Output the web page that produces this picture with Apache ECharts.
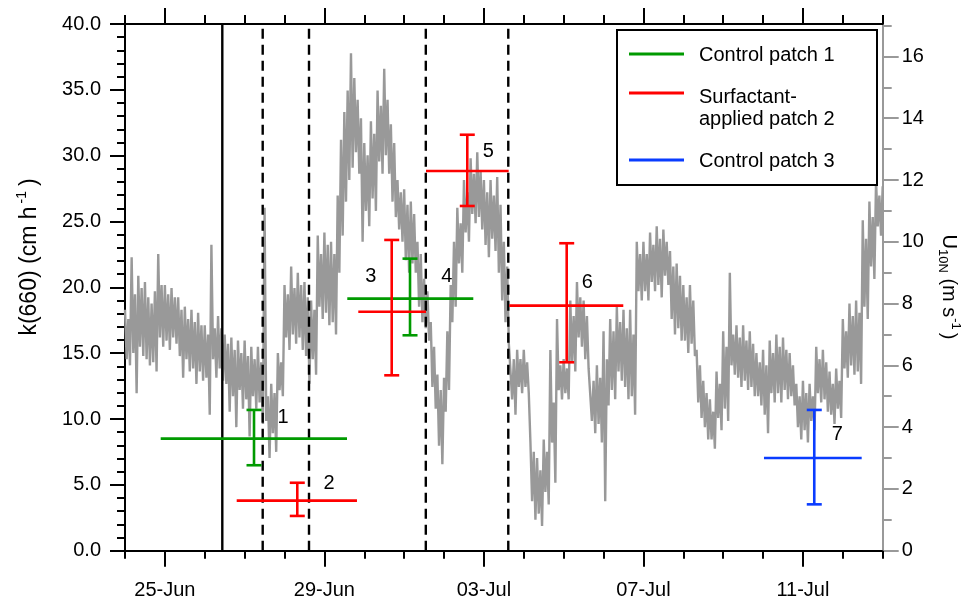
<!DOCTYPE html>
<html>
<head>
<meta charset="utf-8">
<script src="https://cdn.jsdelivr.net/npm/echarts@6/dist/echarts.min.js"></script>
<style>
html,body{margin:0;padding:0;background:#fff;}
#chart{width:972px;height:601px;}
</style>
</head>
<body>
<div id="chart"></div>
<script>
// ---------------- DATA (x = days since 24-Jun 00:00) ----------------
const dayTicks = [0,1,2,3,4,5,6,7,8,9,10,11,12,13,14,15,16,17,18,19];
const dayLabelDays = [1,5,9,13,17];
const dayLabels = ['25-Jun','29-Jun','03-Jul','07-Jul','11-Jul'];
const kTicksMajor = [0,5,10,15,20,25,30,35,40];
const uTicksMajor = [0,2,4,6,8,10,12,14,16];
const uTicksMinor = [1,3,5,7,9,11,13,15,17];

// U10N wind speed (m s-1), one reading every hour from 24-Jun 00:00
const windStepHours = 1;
const windU10N = [
  // 24-Jun
  7.8,6.2,7.5,6.0, 9.5,6.4,8.3,5.1, 8.9,6.6,8.5,6.3, 8.7,6.2,8.2,6.0, 8.0,6.1,8.4,5.8, 9.6,6.9,8.6,6.6,
  // 25-Jun
  8.6,6.8,8.3,6.5, 8.5,6.9,8.2,6.7, 8.2,6.3,7.8,5.6, 7.9,6.2,7.5,5.8, 7.8,5.9,7.4,5.4, 7.7,5.8,7.3,5.5,
  // 26-Jun
  7.3,5.6,7.0,4.4, 9.9,6.2,7.2,5.6, 7.6,5.9,7.2,5.5, 7.0,5.4,6.7,4.5, 6.9,5.0,6.5,4.0, 6.8,5.2,6.4,4.6,
  // 27-Jun
  6.8,4.9,6.3,3.7, 6.6,5.0,6.2,4.6, 6.6,4.8,6.1,4.1, 11.1,4.2,5.0,3.0, 5.4,3.8,5.1,3.2, 6.4,5.2,6.1,5.0,
  // 28-Jun
  8.6,6.9,8.3,6.5, 9.2,7.0,8.5,6.7, 9.0,6.9,8.6,6.5, 8.7,6.3,8.2,5.4, 8.1,6.2,7.8,5.7, 10.2,7.9,9.6,7.5,
  // 29-Jun
  10.3,7.7,9.9,7.3, 10.0,7.4,9.6,7.0, 11.5,9.0,13.3,10.2, 14.2,11.3,14.9,12.0, 16.1,12.4,15.3,12.9, 14.6,12.2,14.0,10.0,
  // 30-Jun
  13.2,11.0,12.8,10.5, 13.9,11.4,13.5,11.0, 14.9,12.6,14.4,12.2, 15.6,12.8,14.6,12.2, 13.8,11.3,13.2,10.8, 12.0,10.4,11.6,10.0,
  // 01-Jul
  11.7,9.4,11.2,9.0, 11.3,9.3,10.9,9.0, 10.0,7.9,9.6,7.4, 8.8,7.2,8.4,6.8, 7.4,5.3,6.6,4.6, 5.7,3.4,5.2,2.8,
  // 02-Jul
  5.6,4.5,7.1,5.2, 8.6,7.4,10.0,7.9, 11.1,9.3,10.6,9.0, 12.0,10.3,11.6,10.0, 12.7,10.9,12.2,10.6, 12.9,10.8,12.3,10.4,
  // 03-Jul
  12.0,9.9,11.6,9.5, 12.0,10.1,11.5,9.7, 12.1,9.0,11.2,8.1, 10.0,7.4,9.2,6.7, 6.7,4.9,6.2,4.4, 6.5,5.3,6.2,5.1,
  // 04-Jul
  6.5,5.3,6.1,5.1, 3.5,1.6,3.2,1.0, 3.0,1.2,2.6,0.8, 3.6,1.9,3.2,1.5, 6.5,3.5,4.8,2.2, 7.5,5.2,6.0,4.9,
  // 05-Jul
  6.2,5.1,5.9,4.9, 8.1,6.1,7.6,5.8, 8.7,6.9,8.2,6.6, 8.1,6.2,7.6,5.9, 5.9,4.2,5.5,3.8, 6.0,4.1,5.6,3.5,
  // 06-Jul
  7.1,1.6,6.2,4.7, 7.5,5.2,7.1,4.9, 7.9,5.8,7.4,5.5, 7.8,5.3,7.2,4.9, 7.8,5.0,7.0,4.4, 10.0,8.4,9.6,8.1,
  // 07-Jul
  10.0,8.4,9.6,8.1, 10.3,8.7,9.9,8.4, 10.5,8.6,10.1,8.2, 10.4,8.9,10.0,8.6, 9.7,7.5,9.2,7.0, 9.3,7.2,8.9,6.8,
  // 08-Jul
  8.6,6.8,8.2,6.4, 8.6,6.7,8.1,6.3, 6.5,4.8,6.0,4.3, 5.5,4.0,5.1,3.6, 4.9,3.6,4.5,3.3, 5.8,4.3,5.4,3.9,
  // 09-Jul
  7.1,4.6,6.6,4.2, 9.0,6.0,7.0,5.7, 7.3,5.6,6.9,5.3, 7.3,5.5,6.8,5.2, 7.1,5.3,6.7,5.0, 6.4,5.0,6.1,4.7,
  // 10-Jul
  6.5,4.4,6.0,3.8, 6.8,5.1,6.4,4.8, 7.0,5.1,6.6,4.8, 6.9,5.2,6.5,4.9, 6.4,5.0,6.0,4.7, 5.4,4.0,5.0,3.6,
  // 11-Jul
  5.5,3.9,5.1,3.5, 5.4,4.2,5.0,3.9, 6.6,5.1,6.2,4.8, 6.5,4.9,6.1,4.5, 5.8,4.4,5.4,4.1, 5.9,4.6,5.5,4.3,
  // 12-Jul
  7.5,5.9,7.1,5.6, 8.0,6.0,7.6,5.7, 8.1,5.8,7.7,5.4, 10.7,7.9,10.1,7.5, 11.3,9.2,10.8,8.8, 12.0,10.5,11.5,10.2,
  11.8
];

// Event lines (days since 24-Jun 00:00)
const solidLineDays = [2.440];
const dashedLineDays = [3.453, 4.614, 7.543, 9.611];

// Error bars: [xMid, k660, xStart, xEnd, kLow, kHigh]  (k in cm h-1)
const patch1Bars = [
  [3.235, 8.51, 0.895, 5.567, 6.49, 10.69],
  [7.147, 19.14, 5.574, 8.734, 16.36, 22.18]
];
const patch2Bars = [
  [4.320, 3.80, 2.801, 5.817, 2.64, 5.16],
  [6.688, 18.15, 5.850, 7.548, 13.32, 23.60],
  [8.583, 28.84, 7.548, 9.621, 26.18, 31.59],
  [11.076, 18.61, 9.636, 12.495, 14.31, 23.35]
];
const patch3Bars = [
  [17.284, 7.04, 16.023, 18.473, 3.52, 10.69]
];
// Bar numbers and their anchor (day, k)
const patch1Labels = ['1','4'];
const patch1LabelAt = [[3.962, 10.08], [8.067, 20.79]];
const patch2Labels = ['2','3','5','6'];
const patch2LabelAt = [[5.115, 5.14], [6.161, 20.79], [9.110, 30.30], [11.592, 20.35]];
const patch3Labels = ['7'];
const patch3LabelAt = [[17.861, 8.79]];

const legendNames = ['Control patch 1', 'Surfactant-', 'applied patch 2', 'Control patch 3'];

// ---------------- STYLE ----------------
const FONT = '"Liberation Sans", Arial, Helvetica, sans-serif';
const FS = 20;
const GREEN = '#009a00', RED = '#ff0000', BLUE = '#0a3cff', GRAY = '#999999';

const windData = windU10N.map((u, i) => [i * windStepHours / 24, u]);

function errorBarSeries(name, bars, labels, labelAt, color) {
  return {
    type: 'custom', name: name, xAxisIndex: 0, yAxisIndex: 0, z: 6, silent: true,
    data: bars.map((b, i) => b.concat(labelAt[i])),
    renderItem: function (params, api) {
      const xm = api.value(0), k = api.value(1), x0 = api.value(2), x1 = api.value(3);
      const lo = api.value(4), hi = api.value(5), lx = api.value(6), ly = api.value(7);
      const pM = api.coord([xm, k]), pL = api.coord([x0, k]), pR = api.coord([x1, k]);
      const pLo = api.coord([xm, lo]), pHi = api.coord([xm, hi]);
      const pT = api.coord([lx, ly]);
      const cap = 7.5;
      const st = { stroke: color, lineWidth: 2.6 };
      return {
        type: 'group',
        children: [
          { type: 'line', shape: { x1: pL[0], y1: pM[1], x2: pR[0], y2: pM[1] }, style: st },
          { type: 'line', shape: { x1: pM[0], y1: pLo[1], x2: pM[0], y2: pHi[1] }, style: st },
          { type: 'line', shape: { x1: pM[0] - cap, y1: pLo[1], x2: pM[0] + cap, y2: pLo[1] }, style: st },
          { type: 'line', shape: { x1: pM[0] - cap, y1: pHi[1], x2: pM[0] + cap, y2: pHi[1] }, style: st },
          { type: 'text', x: pT[0], y: pT[1], style: {
              text: labels[params.dataIndex], fill: '#000', fontSize: FS, fontFamily: FONT,
              align: 'center', verticalAlign: 'middle' } }
        ]
      };
    }
  };
}

function eventLineSeries(days, dashed) {
  return {
    type: 'custom', xAxisIndex: 0, yAxisIndex: 0, z: 4, silent: true,
    data: days.map(d => [d]),
    renderItem: function (params, api) {
      const x = api.value(0);
      const p0 = api.coord([x, 0]), p1 = api.coord([x, 40]);
      return { type: 'line', shape: { x1: p0[0], y1: p0[1], x2: p1[0], y2: p1[1] },
        style: { stroke: '#000', lineWidth: 2.4, lineDash: dashed ? [10, 6] : null } };
    }
  };
}

const xBase = { type: 'value', min: 0, max: 19, gridIndex: 0, splitLine: { show: false } };
const blackLine = { color: '#000', width: 2 };

const option = {
  animation: false,
  backgroundColor: '#fff',
  grid: { left: 125, top: 24, width: 757.7, height: 526.7, containLabel: false },
  xAxis: [
    Object.assign({}, xBase, {
      position: 'bottom',
      axisLine: { show: true, onZero: false, lineStyle: blackLine },
      axisTick: { show: true, customValues: dayTicks, length: 8, lineStyle: blackLine },
      axisLabel: { show: true, customValues: dayLabelDays, margin: 30,
        formatter: v => dayLabels[dayLabelDays.indexOf(v)] || '',
        fontSize: FS, fontFamily: FONT, color: '#000' }
    }),
    Object.assign({}, xBase, {
      position: 'bottom',
      axisLine: { show: false, onZero: false },
      axisTick: { show: true, customValues: dayLabelDays, length: 16, lineStyle: blackLine },
      axisLabel: { show: false }
    }),
    Object.assign({}, xBase, {
      position: 'top',
      axisLine: { show: true, onZero: false, lineStyle: blackLine },
      axisTick: { show: true, customValues: dayTicks, length: 9, lineStyle: blackLine },
      axisLabel: { show: false }
    }),
    Object.assign({}, xBase, {
      position: 'top',
      axisLine: { show: false, onZero: false },
      axisTick: { show: true, customValues: dayLabelDays, length: 16, lineStyle: blackLine },
      axisLabel: { show: false }
    })
  ],
  yAxis: [
    {
      type: 'value', position: 'left', min: 0, max: 40, interval: 5,
      splitLine: { show: false },
      axisLine: { show: true, onZero: false, lineStyle: blackLine },
      axisTick: { show: true, customValues: kTicksMajor, length: 15, lineStyle: blackLine },
      minorTick: { show: true, splitNumber: 5, length: 8, lineStyle: blackLine },
      axisLabel: { customValues: kTicksMajor, formatter: v => v.toFixed(1), margin: 24,
        fontSize: FS, fontFamily: FONT, color: '#000' }
    },
    {
      type: 'value', position: 'right', min: 0, max: 17.05,
      splitLine: { show: false },
      axisLine: { show: true, onZero: false, lineStyle: { color: GRAY, width: 2 } },
      axisTick: { show: true, customValues: uTicksMajor, length: 16, lineStyle: { color: GRAY, width: 2 } },
      axisLabel: { customValues: uTicksMajor, margin: 19, fontSize: FS, fontFamily: FONT, color: '#000' }
    },
    {
      type: 'value', position: 'right', min: 0, max: 17.05,
      splitLine: { show: false },
      axisLine: { show: false, onZero: false },
      axisTick: { show: true, customValues: uTicksMinor, length: 9, lineStyle: { color: GRAY, width: 2 } },
      axisLabel: { show: false }
    }
  ],
  series: [
    {
      type: 'line', name: 'U10N', xAxisIndex: 0, yAxisIndex: 1, z: 2, silent: true,
      data: windData, showSymbol: false, symbol: 'none',
      lineStyle: { color: GRAY, width: 2.4 }
    },
    eventLineSeries(solidLineDays, false),
    eventLineSeries(dashedLineDays, true),
    errorBarSeries('Control patch 1', patch1Bars, patch1Labels, patch1LabelAt, GREEN),
    errorBarSeries('Surfactant-applied patch 2', patch2Bars, patch2Labels, patch2LabelAt, RED),
    errorBarSeries('Control patch 3', patch3Bars, patch3Labels, patch3LabelAt, BLUE)
  ],
  graphic: [
    // legend
    { type: 'rect', z: 100, shape: { x: 617, y: 30, width: 260, height: 155 },
      style: { fill: '#fff', stroke: '#000', lineWidth: 2 } },
    { type: 'line', z: 101, shape: { x1: 629, y1: 54, x2: 684, y2: 54 }, style: { stroke: GREEN, lineWidth: 3 } },
    { type: 'line', z: 101, shape: { x1: 629, y1: 93, x2: 684, y2: 93 }, style: { stroke: RED, lineWidth: 3 } },
    { type: 'line', z: 101, shape: { x1: 629, y1: 160, x2: 684, y2: 160 }, style: { stroke: BLUE, lineWidth: 3 } },
    { type: 'text', z: 101, x: 699, y: 55, style: { text: legendNames[0], fill: '#000', fontSize: FS, fontFamily: FONT, verticalAlign: 'middle' } },
    { type: 'text', z: 101, x: 699, y: 97, style: { text: legendNames[1], fill: '#000', fontSize: FS, fontFamily: FONT, verticalAlign: 'middle' } },
    { type: 'text', z: 101, x: 699, y: 119, style: { text: legendNames[2], fill: '#000', fontSize: FS, fontFamily: FONT, verticalAlign: 'middle' } },
    { type: 'text', z: 101, x: 699, y: 161, style: { text: legendNames[3], fill: '#000', fontSize: FS, fontFamily: FONT, verticalAlign: 'middle' } },
    // left axis title
    { type: 'text', z: 101, x: 30, y: 257, rotation: Math.PI / 2,
      style: {
        text: '{a|k(660) (cm h}{s|-1}{a|)}',
        align: 'center', verticalAlign: 'middle', fill: '#000',
        rich: {
          a: { fontSize: 23, fontFamily: FONT, fill: '#000' },
          s: { fontSize: 14, fontFamily: FONT, fill: '#000', padding: [0, 5, 15, 3] }
        }
      } },
    // right axis title
    { type: 'text', z: 101, x: 949, y: 287, rotation: -Math.PI / 2,
      style: {
        text: '{a|U}{b|10N}{a| (m s}{s|-1}{a|)}',
        align: 'center', verticalAlign: 'middle', fill: '#000',
        rich: {
          a: { fontSize: FS, fontFamily: FONT, fill: '#000' },
          b: { fontSize: 13, fontFamily: FONT, fill: '#000', padding: [12, 0, 0, 0] },
          s: { fontSize: 13, fontFamily: FONT, fill: '#000', padding: [0, 3, 14, 1] }
        }
      } }
  ]
};

const chart = echarts.init(document.getElementById('chart'), null, { renderer: 'canvas' });
chart.setOption(option);
</script>
</body>
</html>
